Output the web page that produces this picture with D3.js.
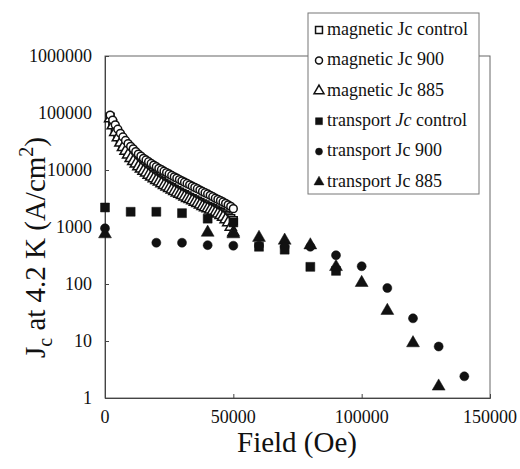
<!DOCTYPE html>
<html>
<head>
<meta charset="utf-8">
<script src="https://cdn.jsdelivr.net/npm/d3@7"></script>
</head>
<body style="margin:0">
<div id="chart" style="position:relative;width:520px;height:469px;"></div>
<script>
// magnetic Jc (dense sweep, 1 kOe steps)
const magField = [2000, 3000, 4000, 5000, 6000, 7000, 8000, 9000, 10000, 11000, 12000, 13000, 14000,
  15000, 16000, 17000, 18000, 19000, 20000, 21000, 22000, 23000, 24000, 25000, 26000, 27000, 28000,
  29000, 30000, 31000, 32000, 33000, 34000, 35000, 36000, 37000, 38000, 39000, 40000, 41000, 42000,
  43000, 44000, 45000, 46000, 47000, 48000, 49000, 50000];
const mag900 = [92000, 75000, 62000, 52000, 44000, 38000, 33000, 29000, 26000, 23500, 21000, 19000, 17500,
  16000, 15000, 14000, 13000, 12200, 11400, 10700, 10100, 9500, 9000, 8500, 8000, 7600, 7200,
  6800, 6450, 6100, 5800, 5500, 5200, 4950, 4700, 4450, 4200, 4000, 3800, 3600, 3400,
  3200, 3050, 2900, 2750, 2600, 2450, 2300, 2100];
const magControl = [85000, 65000, 50000, 40000, 33000, 27000, 23000, 20000, 17500, 15500, 14000, 12700, 11500,
  10500, 9700, 9000, 8300, 7700, 7200, 6700, 6300, 5900, 5500, 5200, 4900, 4600, 4350,
  4100, 3900, 3700, 3500, 3300, 3150, 3000, 2850, 2700, 2550, 2450, 2300, 2200, 2100,
  2000, 1900, 1800, 1700, 1600, 1500, 1400, 1300];
const mag885 = [80000, 60000, 46000, 37000, 30000, 25000, 21500, 18500, 16000, 14200, 12800, 11500, 10500,
  9600, 8900, 8200, 7600, 7100, 6600, 6200, 5800, 5400, 5100, 4800, 4500, 4250, 4000,
  3800, 3600, 3400, 3200, 3050, 2900, 2750, 2600, 2450, 2300, 2200, 2100, 2000, 1900,
  1800, 1700, 1600, 1500, 1350, 1200, 1000, 800];

// transport Jc
const trControlField = [0, 10000, 20000, 30000, 40000, 50000, 60000, 70000, 80000, 90000];
const trControl = [2200, 1850, 1850, 1750, 1400, 1200, 450, 400, 200, 170];
const tr900Field = [0, 20000, 30000, 40000, 50000, 60000, 70000, 80000, 90000, 100000, 110000, 120000, 130000, 140000];
const tr900 = [950, 530, 530, 480, 470, 470, 450, 450, 320, 205, 85, 25, 8, 2.4];
const tr885Field = [0, 40000, 50000, 60000, 70000, 80000, 90000, 100000, 110000, 120000, 130000];
const tr885 = [750, 800, 750, 650, 580, 480, 200, 105, 34, 9.2, 1.6];

const xTicks = [0, 50000, 100000, 150000];
const yTicks = [1, 10, 100, 1000, 10000, 100000, 1000000];

const series = [
  { name: "magnetic Jc control", shape: "square", fill: false, xs: magField, ys: magControl },
  { name: "magnetic Jc 885", shape: "triangle", fill: false, xs: magField, ys: mag885 },
  { name: "magnetic Jc 900", shape: "circle", fill: false, xs: magField, ys: mag900 },
  { name: "transport Jc control", shape: "square", fill: true, xs: trControlField, ys: trControl },
  { name: "transport Jc 885", shape: "triangle", fill: true, xs: tr885Field, ys: tr885 },
  { name: "transport Jc 900", shape: "circle", fill: true, xs: tr900Field, ys: tr900 }
];
const legendOrder = ["magnetic Jc control", "magnetic Jc 900", "magnetic Jc 885",
  "transport Jc control", "transport Jc 900", "transport Jc 885"];

const W = 520, H = 469;
const plot = { left: 105, right: 490, top: 56, bottom: 398 };
const serif = '"Liberation Serif", "Times New Roman", serif';

const chart = d3.select("#chart");
const svg = chart.append("svg")
  .attr("width", W).attr("height", H)
  .style("position", "absolute").style("left", "0px").style("top", "0px");

const x = d3.scaleLinear().domain([0, 150000]).range([plot.left, plot.right]);
const y = d3.scaleLog().domain([1, 1000000]).range([plot.bottom, plot.top]);

// frame
svg.append("rect")
  .attr("x", plot.left).attr("y", plot.top)
  .attr("width", plot.right - plot.left).attr("height", plot.bottom - plot.top)
  .attr("fill", "none").attr("stroke", "#666").attr("stroke-width", 1);

// axes with inward ticks (labels drawn as html text)
const yAxis = svg.append("g")
  .attr("transform", `translate(${plot.left},0)`)
  .call(d3.axisRight(y).tickValues(yTicks).tickSize(4).tickFormat(""));
const xAxis = svg.append("g")
  .attr("transform", `translate(0,${plot.bottom})`)
  .call(d3.axisTop(x).tickValues(xTicks).tickSize(4).tickFormat(""));
[yAxis, xAxis].forEach(a => {
  a.selectAll("text").remove();
  a.select(".domain").attr("stroke", "#444");
  a.selectAll(".tick line").attr("stroke", "#444");
});

// symbols
const sym = {
  square: d3.symbolSquare,
  circle: d3.symbolCircle,
  triangle: d3.symbolTriangle
};
const size = { square: 80, circle: 64, triangle: 72 };

function drawSymbol(g, s, px, py, scale) {
  const k = scale || (s.fill ? 1 : 0.75);
  g.append("path")
    .attr("transform", `translate(${px},${py})`)
    .attr("d", d3.symbol().type(sym[s.shape]).size(size[s.shape] * k)())
    .attr("fill", s.fill ? "#111" : "#fff")
    .attr("stroke", "#111")
    .attr("stroke-width", s.fill ? 0.5 : 1.5);
}

const marks = svg.append("g");
series.forEach(s => {
  s.xs.forEach((f, i) => drawSymbol(marks, s, x(f), y(s.ys[i])));
});

// legend box + symbols
const lg = svg.append("g");
lg.append("rect")
  .attr("x", 308).attr("y", 13).attr("width", 171).attr("height", 181)
  .attr("fill", "#fff").attr("stroke", "#777").attr("stroke-width", 1);
const legendY = i => 30 + i * 30.4;
legendOrder.forEach((name, i) => {
  const s = series.find(d => d.name === name);
  drawSymbol(lg, s, 319, legendY(i), 0.6);
});

// html text layer; top = baseline - 0.84 * font size
function html(txt, left, width, baseline, fs, align) {
  return chart.append("div")
    .style("position", "absolute")
    .style("left", left + "px").style("width", width + "px")
    .style("top", (baseline - 0.84 * fs) + "px")
    .style("line-height", fs + "px")
    .style("font-family", serif)
    .style("font-size", fs + "px")
    .style("color", "#111")
    .style("text-align", align)
    .style("white-space", "nowrap")
    .html(txt);
}

yTicks.forEach(d => html(String(d), 0, 92, y(d) + 6, 18, "right"));
xTicks.forEach(d => html(String(d), x(d) - 60, 120, 423, 18, "center"));
html("Field (Oe)", 197, 200, 452, 29, "center");

legendOrder.forEach((name, i) => {
  const txt = name === "transport Jc control"
    ? "transport <i>Jc</i> control" : name;
  html(txt, 327, 160, legendY(i) + 5, 18, "left");
});

// rotated y title, box centred at (35, 247)
chart.append("div")
  .style("position", "absolute")
  .style("left", (35 - 160) + "px").style("width", "320px")
  .style("top", (247 - 14.5) + "px").style("height", "29px")
  .style("line-height", "29px")
  .style("font-family", serif)
  .style("font-size", "29px")
  .style("color", "#111")
  .style("text-align", "center")
  .style("white-space", "nowrap")
  .style("transform", "rotate(-90deg)")
  .html('J<span style="font-size:20px;position:relative;top:7px">c</span> at 4.2 K (A/cm' +
    '<span style="font-size:20px;position:relative;top:-12px">2</span>)');
</script>
</body>
</html>
